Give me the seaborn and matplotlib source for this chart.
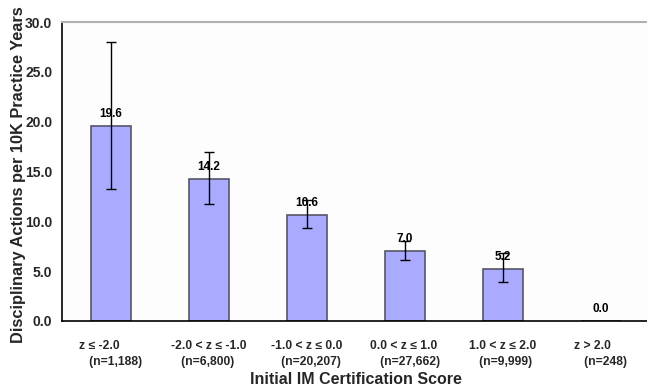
import matplotlib
matplotlib.use("Agg")
import matplotlib.pyplot as plt
import seaborn as sns
import pandas as pd
import numpy as np

# Score bands and their sizes
bands = ["z ≤ -2.0", "-2.0 < z ≤ -1.0", "-1.0 < z ≤ 0.0",
         "0.0 < z ≤ 1.0", "1.0 < z ≤ 2.0", "z > 2.0"]
counts = ["1,188", "6,800", "20,207", "27,662", "9,999", "248"]

# Disciplinary action rates and confidence limits
rates = [19.6, 14.2, 10.6, 7.0, 5.2, 0.0]
ci_low = [13.2, 11.7, 9.3, 6.1, 3.9, 0.0]
ci_high = [28.0, 17.0, 12.1, 8.0, 6.8, 0.0]

y_ticks = [0.0, 5.0, 10.0, 15.0, 20.0, 25.0, 30.0]

labels = [f"{b}\n   (n={n})" for b, n in zip(bands, counts)]
df = pd.DataFrame({"band": labels, "rate": rates})

sns.set_theme(style="white")
plt.rcParams["font.family"] = ["Liberation Sans", "DejaVu Sans"]

fig = plt.figure(figsize=(6.47, 3.89), dpi=100)
fig.patch.set_facecolor("white")
ax = fig.add_axes([62 / 647, 1 - 321 / 389, 588 / 647, 299 / 389])
ax.set_facecolor("#fdfdfd")

sns.barplot(data=df, x="band", y="rate", ax=ax, color="#aaaaff",
            saturation=1, width=0.4, edgecolor="#555566", linewidth=1.2,
            errorbar=None)

x = np.arange(len(rates))
lo = np.array(rates) - np.array(ci_low)
hi = np.array(ci_high) - np.array(rates)
ax.errorbar(x[:-1], np.array(rates)[:-1], yerr=[lo[:-1], hi[:-1]], fmt="none",
            ecolor="black", elinewidth=1.0, capsize=3.5, capthick=1.0)

for xi, v in zip(x, rates):
    ax.text(xi, v + 0.6, f"{v:.1f}", ha="center", va="bottom",
            fontsize=8.5, fontweight="bold", color="black")

ax.set_xlim(-0.5, 5.5)
ax.set_ylim(0, 30)
ax.set_yticks(y_ticks)
ax.set_yticklabels([f"{t:.1f}" for t in y_ticks], fontsize=10, fontweight="bold")

# category separators as ticks at band boundaries
ax.set_xticks(x)
ax.set_xticklabels(labels, fontsize=8.7, fontweight="bold", multialignment="left",
                   linespacing=1.45)
ax.tick_params(axis="x", length=0, pad=14)
ax.set_xticks(np.arange(-0.5, 5.5, 1.0), minor=True)
ax.tick_params(axis="x", which="minor", length=4, width=1.0, color="black", direction="out")
ax.tick_params(axis="y", length=4, width=1.0, color="black", direction="out", pad=3)

for s in ["left", "bottom"]:
    ax.spines[s].set_color("black")
    ax.spines[s].set_linewidth(1.2)
ax.spines["right"].set_visible(False)
ax.spines["top"].set_color("#b0b0b0")
ax.spines["top"].set_linewidth(1.5)

ax.set_xlabel("Initial IM Certification Score", fontsize=11.5, fontweight="bold")
ax.xaxis.set_label_coords(0.5, -0.172)
ax.set_ylabel("Disciplinary Actions per 10K Practice Years", fontsize=11.8,
              fontweight="bold")
ax.yaxis.set_label_coords(-0.062, 0.49)

fig.savefig("out.png", dpi=100)
